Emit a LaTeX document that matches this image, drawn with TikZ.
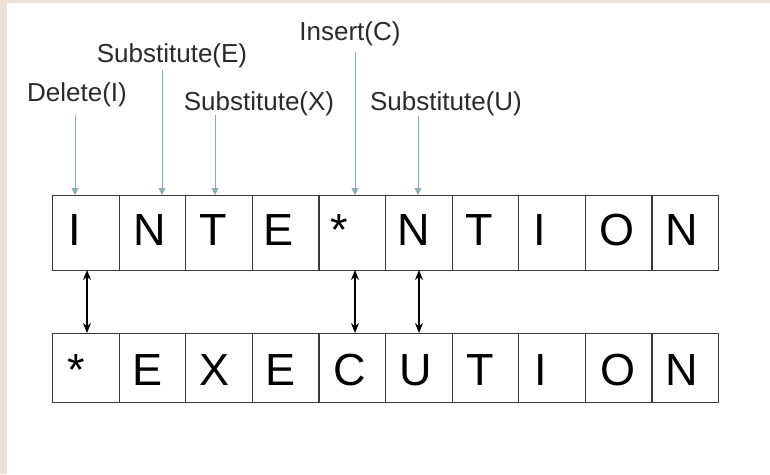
\documentclass[tikz,border=0pt]{standalone}
\usepackage{fontspec}
\setmainfont{Liberation Sans}
\usetikzlibrary{arrows.meta}
\definecolor{bgpink}{HTML}{EBE1DB}
\definecolor{opgray}{HTML}{8AAEAE}
\definecolor{labtext}{HTML}{2A2A2A}
\definecolor{cellline}{HTML}{3A3A3A}
\begin{document}
\begin{tikzpicture}[x=1pt,y=-1pt,
  lab/.style={font=\fontsize{26}{26}\selectfont, text=labtext, anchor=base, inner sep=0pt},
  letter/.style={font=\fontsize{45}{45}\selectfont, text=black, anchor=base, inner sep=0pt},
  cellbox/.style={draw=cellline, line width=1.1pt, minimum width=66.6pt, inner sep=0pt, anchor=north west},
  oparrow/.style={draw=opgray, line width=0.9pt, -{Triangle[length=7pt,width=7pt]}},
  matcharrow/.style={draw=black, line width=1.1pt, {Stealth[length=10pt,width=8pt]}-{Stealth[length=10pt,width=8pt]}}
]
\useasboundingbox (0,0) rectangle (770,474);
\fill[bgpink] (0,0) rectangle (770,474);
\fill[white] (7,3) rectangle (770,474);

% top row cells
\foreach \i in {0,...,9} {
  \node[cellbox, minimum height=75pt] (t\i) at ({52+66.6*\i},195) {};
}
% bottom row cells
\foreach \i in {0,...,9} {
  \node[cellbox, minimum height=69pt] (b\i) at ({52+66.6*\i},333) {};
}

% top letters
\node[letter] (tl0) at (75,245) {I};
\node[letter] (tl1) at (150,245) {N};
\node[letter] (tl2) at (213,245) {T};
\node[letter] (tl3) at (279,245) {E};
\node[letter] (tl4) at (339,245) {*};
\node[letter] (tl5) at (414,245) {N};
\node[letter] (tl6) at (479,245) {T};
\node[letter] (tl7) at (540,245) {I};
\node[letter] (tl8) at (617,245) {O};
\node[letter] (tl9) at (682,245) {N};

% bottom letters
\node[letter] (bl0) at (76,385) {*};
\node[letter] (bl1) at (148,385) {E};
\node[letter] (bl2) at (215,385) {X};
\node[letter] (bl3) at (281,385) {E};
\node[letter] (bl4) at (350,385) {C};
\node[letter] (bl5) at (416,385) {U};
\node[letter] (bl6) at (480,385) {T};
\node[letter] (bl7) at (541,385) {I};
\node[letter] (bl8) at (618,385) {O};
\node[letter] (bl9) at (682,385) {N};

% labels
\node[lab] (ldel) at (77,101) {Delete(I)};
\node[lab] (lsube) at (172,62) {Substitute(E)};
\node[lab] (lsubx) at (259,110) {Substitute(X)};
\node[lab] (lins) at (350,40) {Insert(C)};
\node[lab] (lsubu) at (446,110) {Substitute(U)};

% arrow coordinates
\coordinate (sdel) at (75,115);  \coordinate (edel) at (75,195);
\coordinate (ssube) at (162,70); \coordinate (esube) at (162,195);
\coordinate (ssubx) at (215,115); \coordinate (esubx) at (215,195);
\coordinate (sins) at (355,52);  \coordinate (eins) at (355,195);
\coordinate (ssubu) at (418,116); \coordinate (esubu) at (418,195);

\draw[oparrow] (sdel) -- (edel);
\draw[oparrow] (ssube) -- (esube);
\draw[oparrow] (ssubx) -- (esubx);
\draw[oparrow] (sins) -- (eins);
\draw[oparrow] (ssubu) -- (esubu);

% match arrows
\coordinate (m0a) at (87,270); \coordinate (m0b) at (87,333);
\coordinate (m4a) at (355,270); \coordinate (m4b) at (355,333);
\coordinate (m5a) at (419,270); \coordinate (m5b) at (419,333);
\draw[matcharrow] (m0a) -- (m0b);
\draw[matcharrow] (m4a) -- (m4b);
\draw[matcharrow] (m5a) -- (m5b);
\end{tikzpicture}
\end{document}
